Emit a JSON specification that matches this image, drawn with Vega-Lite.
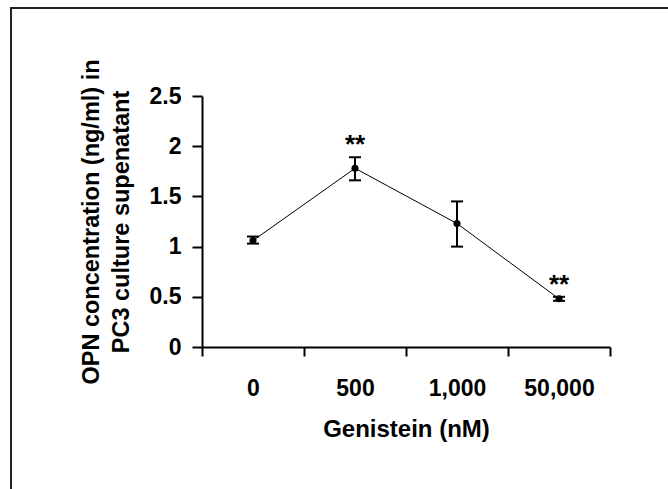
{
  "$schema": "https://vega.github.io/schema/vega-lite/v6.json",
  "autosize": {"type": "none"},
  "padding": {"left": 11, "top": 8, "right": 0, "bottom": 0},
  "width": 700,
  "height": 500,
  "background": "white",
  "config": {"view": {"stroke": "#222", "strokeWidth": 2}, "font": "Liberation Sans"},
  "data": {
    "values": [
      {"dose": "0", "mean": 1.06, "lower": 1.03, "upper": 1.10, "sig": ""},
      {"dose": "500", "mean": 1.78, "lower": 1.66, "upper": 1.89, "sig": "**"},
      {"dose": "1,000", "mean": 1.23, "lower": 1.00, "upper": 1.45, "sig": ""},
      {"dose": "50,000", "mean": 0.48, "lower": 0.46, "upper": 0.50, "sig": "**"}
    ]
  },
  "encoding": {
    "x": {
      "field": "dose",
      "type": "ordinal",
      "sort": null,
      "scale": {"type": "band", "domain": ["0", "500", "1,000", "50,000"], "range": [191, 599], "paddingInner": 0, "paddingOuter": 0},
      "axis": {
        "title": "Genistein (nM)",
        "tickBand": "extent",
        "offset": -161,
        "tickSize": 9,
        "tickWidth": 2,
        "tickColor": "black",
        "domainWidth": 2,
        "domainColor": "black",
        "labelAngle": 0,
        "labelFont": "Liberation Sans",
        "labelFontSize": 23,
        "labelFontWeight": "bold",
        "labelColor": "black",
        "labelPadding": 21,
        "titleFont": "Liberation Sans",
        "titleFontSize": 24,
        "titleFontWeight": "bold",
        "titleColor": "black",
        "titlePadding": 17
      }
    }
  },
  "layer": [
    {
      "mark": {"type": "line", "color": "black", "strokeWidth": 1},
      "encoding": {
        "order": {"value": null},
        "y": {
          "field": "mean",
          "type": "quantitative",
          "scale": {"domain": [0, 2.5], "range": [339, 88], "nice": false, "zero": true},
          "axis": {
            "title": ["OPN concentration (ng/ml) in", "PC3 culture supenatant"],
            "values": [0, 0.5, 1, 1.5, 2, 2.5],
            "format": "~g",
            "grid": false,
            "offset": -191,
            "tickSize": 10,
            "tickWidth": 2,
            "tickColor": "black",
            "domainWidth": 2,
            "domainColor": "black",
            "labelFont": "Liberation Sans",
            "labelFontSize": 23,
            "labelFontWeight": "bold",
            "labelColor": "black",
            "labelPadding": 11,
            "labelOverlap": false,
            "titleFont": "Liberation Sans",
            "titleFontSize": 23.5,
            "titleFontWeight": "bold",
            "titleColor": "black",
            "titleLineHeight": 30,
            "titlePadding": 16
          }
        }
      }
    },
    {
      "mark": {"type": "rule", "color": "black", "strokeWidth": 2},
      "encoding": {"y": {"field": "lower", "type": "quantitative"}, "y2": {"field": "upper"}}
    },
    {
      "mark": {"type": "tick", "color": "black", "size": 12, "thickness": 2, "opacity": 1},
      "encoding": {"y": {"field": "lower", "type": "quantitative"}}
    },
    {
      "mark": {"type": "tick", "color": "black", "size": 12, "thickness": 2, "opacity": 1},
      "encoding": {"y": {"field": "upper", "type": "quantitative"}}
    },
    {
      "mark": {"type": "point", "filled": true, "color": "black", "size": 50, "opacity": 1},
      "encoding": {"y": {"field": "mean", "type": "quantitative"}}
    },
    {
      "mark": {"type": "text", "font": "Liberation Sans", "fontSize": 26, "fontWeight": "bold", "color": "black", "baseline": "alphabetic", "dy": -4},
      "encoding": {"y": {"field": "upper", "type": "quantitative"}, "text": {"field": "sig"}}
    }
  ]
}
